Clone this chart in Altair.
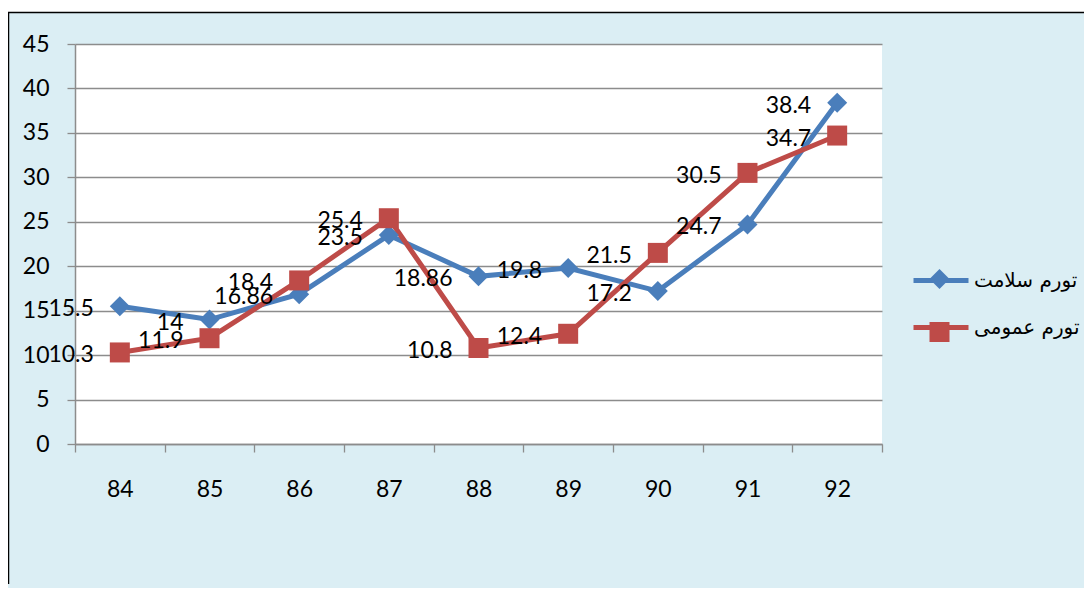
import altair as alt
import pandas as pd

years = ["84", "85", "86", "87", "88", "89", "90", "91", "92"]
series_names = ["تورم سلامت", "تورم عمومی"]
health_inflation = [15.5, 14, 16.86, 23.5, 18.86, 19.8, 17.2, 24.7, 38.4]
general_inflation = [10.3, 11.9, 18.4, 25.4, 10.8, 12.4, 21.5, 30.5, 34.7]
colors = ["#4A7EBB", "#BE4B48"]
shapes = ["diamond", "square"]

rows = []
for y, v in zip(years, health_inflation):
    rows.append({"year": y, "series": series_names[0], "marker": shapes[0], "value": v})
for y, v in zip(years, general_inflation):
    rows.append({"year": y, "series": series_names[1], "marker": shapes[1], "value": v})
df = pd.DataFrame(rows)

W, H = 807, 400
BG = "#DBEEF4"
GRID = "#8C8C8C"
FONT = "Lato"
FS = 23

x_enc = alt.X("year:N", sort=years,
              scale=alt.Scale(paddingInner=0, paddingOuter=0),
              axis=alt.Axis(title=None, labelAngle=0, grid=False, tickBand="extent",
                            tickSize=8, tickColor=GRID, domainColor=GRID, domainWidth=1.5,
                            tickWidth=1.3, labelPadding=26, labelFontSize=FS,
                            labelFont=FONT, labelColor="#000000"))
y_enc = alt.Y("value:Q",
              scale=alt.Scale(domain=[0, 45], nice=False),
              axis=alt.Axis(title=None, values=list(range(0, 46, 5)), grid=True,
                            gridColor=GRID, gridWidth=1.3, tickSize=8, tickColor=GRID,
                            tickWidth=1.3, domainColor=GRID, domainWidth=1.5,
                            labelPadding=18, labelFontSize=FS, labelFont=FONT,
                            labelColor="#000000"))

base = alt.Chart(df)

lines = base.mark_line(strokeWidth=5).encode(
    x=x_enc, y=y_enc,
    stroke=alt.Stroke("series:N", sort=series_names,
                      scale=alt.Scale(domain=series_names, range=colors),
                      legend=alt.Legend(title=None, orient="none", legendX=836, legendY=206.5,
                                        symbolType="stroke", symbolSize=3025,
                                        symbolStrokeWidth=5, rowPadding=7, padding=0,
                                        labelOffset=3, labelFontSize=20,
                                        labelFont="DejaVu Sans", labelColor="#000000")),
)

marker_legend = alt.Legend(title=None, orient="none", legendX=853.5, legendY=224,
                           symbolSize=400, rowPadding=27, padding=0,
                           labelExpr="''", labelFontSize=18)
points = base.mark_point(filled=True, size=400, opacity=1).encode(
    x=x_enc, y=y_enc,
    fill=alt.Fill("marker:N", sort=shapes,
                  scale=alt.Scale(domain=shapes, range=colors),
                  legend=marker_legend),
    shape=alt.Shape("marker:N", sort=shapes,
                    scale=alt.Scale(domain=shapes, range=shapes),
                    legend=marker_legend),
)

labels = base.mark_text(align="right", baseline="middle", dx=-26, dy=3,
                        fontSize=FS, font=FONT, color="#000000").encode(
    x=alt.X("year:N", sort=years), y=alt.Y("value:Q"),
    text=alt.Text("value:Q"),
)

one = alt.Data(values=[{"k": 1}])
white_strip = alt.Chart(one).mark_rect(color="#FFFFFF").encode(
    x=alt.value(-67), x2=alt.value(1009), y=alt.value(-37), y2=alt.value(-32))
top_border = alt.Chart(one).mark_rule(color="#000000", strokeWidth=1.5).encode(
    x=alt.value(-67), x2=alt.value(1009), y=alt.value(-31.5))
left_border = alt.Chart(one).mark_rule(color="#000000", strokeWidth=1.5).encode(
    x=alt.value(-66.5), y=alt.value(-32), y2=alt.value(540))

chart = alt.layer(white_strip, top_border, left_border, lines, points, labels).properties(
    width=W, height=H,
    padding={"left": 67, "top": 36, "right": 202, "bottom": 144},
    autosize=alt.AutoSizeParams(type="none"),
    background=BG,
).configure_view(fill="#FFFFFF", stroke=None)

chart.save("out.html", embed_options={"renderer": "svg", "actions": False})
